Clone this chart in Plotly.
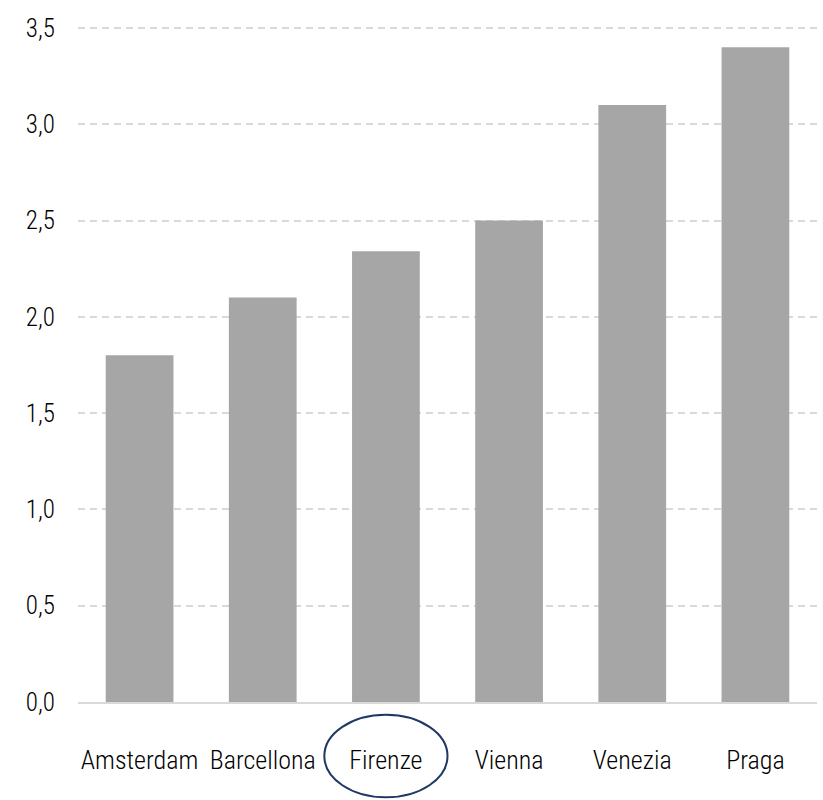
import plotly.graph_objects as go

cities = ["Amsterdam", "Barcellona", "Firenze", "Vienna", "Venezia", "Praga"]
values = [1.80, 2.10, 2.34, 2.50, 3.10, 3.40]
highlight = "Firenze"

FONT = "Roboto Condensed, IBM Plex Sans Condensed, sans-serif"

fig = go.Figure(go.Bar(x=cities, y=values, marker=dict(color="#a6a6a6", line=dict(width=0)),
                       hoverinfo="skip"))

hi = cities.index(highlight)
fig.add_shape(type="circle", xref="x", yref="paper",
              x0=hi - 0.5, x1=hi + 0.5, y0=-0.141, y1=-0.019,
              line=dict(color="#1f3864", width=2))

fig.update_layout(
    width=823, height=800,
    margin=dict(l=78, r=6, t=26, b=98, autoexpand=False),
    plot_bgcolor="white", paper_bgcolor="white",
    bargap=0.45, showlegend=False,
    separators=",.",
    font=dict(family=FONT, size=25, color="#000000"),
)
fig.update_yaxes(range=[0, 3.51], tickvals=[0, 0.5, 1, 1.5, 2, 2.5, 3, 3.5], tickformat=".1f",
                 showgrid=True, gridcolor="#d9d9d9", gridwidth=2, griddash="7px,5px",
                 zeroline=False, showline=False, ticks="", ticklabelstandoff=22,
                 tickfont=dict(size=25, weight=300), automargin=False)
fig.update_xaxes(showline=True, linecolor="#d9d9d9", linewidth=2, showgrid=False,
                 ticks="", ticklabelstandoff=34, tickfont=dict(size=26, weight=300), tickangle=0,
                 automargin=False)

fig.write_html("out.html", config={"displayModeBar": False},
               post_script="document.body.style.margin='0';")
